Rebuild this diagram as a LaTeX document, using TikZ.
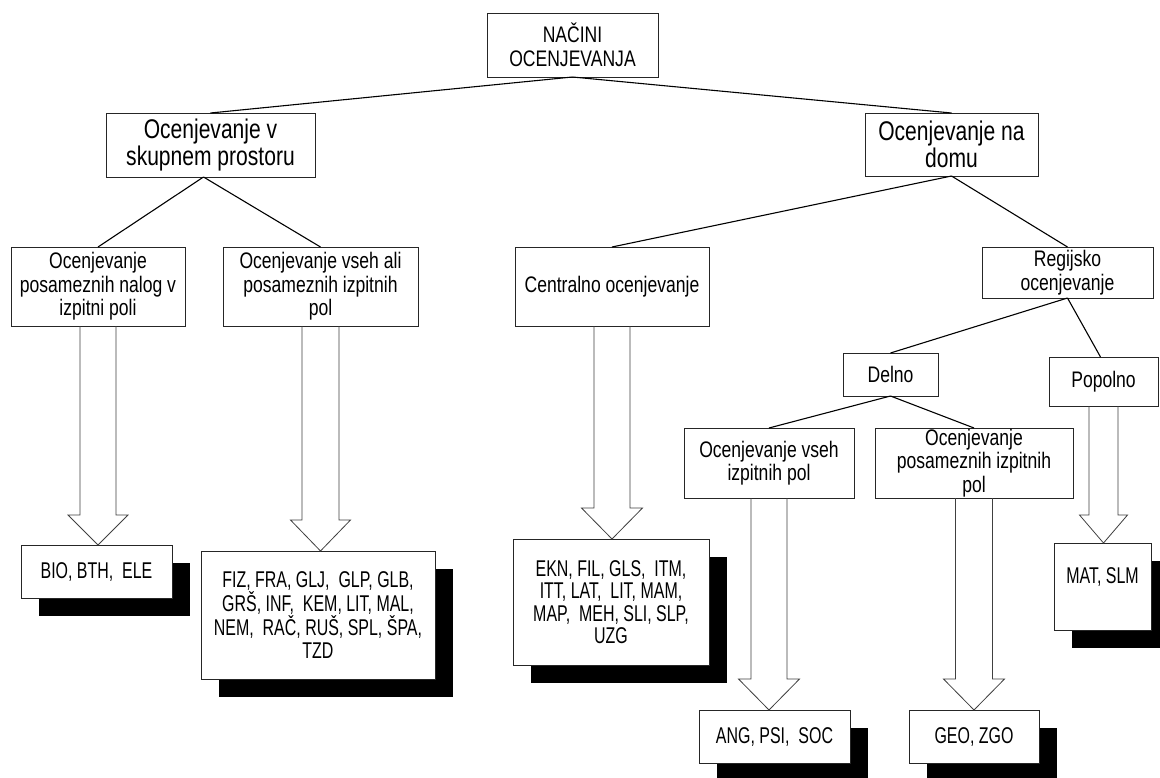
\documentclass[tikz,border=0pt]{standalone}
\usepackage{fontspec}
\newfontfamily\nf[FakeStretch=0.78]{Liberation Sans}
\newfontfamily\lf[FakeStretch=0.70]{Liberation Sans}
\usetikzlibrary{calc,shadows}
\tikzset{
 box/.style={draw=black!85, line width=0.8pt, fill=white, inner sep=0pt, outer sep=0pt, align=center, font=\nf\fontsize{22.5}{23.5}\selectfont},
 bigbox/.style={box, font=\nf\fontsize{27}{27.3}\selectfont},
 listbox/.style={box, font=\lf\fontsize{22.8}{22.5}\selectfont, drop shadow={shadow xshift=18pt, shadow yshift=-18pt, fill=black, opacity=1}},
 conn/.style={line width=1.1pt, draw=black},
 barr/.style={draw=black!75, line width=0.8pt},
}
\newcommand\blockarrow[5]{%
 \draw[barr] ($(#1.south)+(-#3,0)$) -- ($(#1.south |- #2.north)+(-#3,-#5)$) -- ($(#1.south |- #2.north)+(-#4,-#5)$) -- (#1.south |- #2.north) -- ($(#1.south |- #2.north)+(#4,-#5)$) -- ($(#1.south |- #2.north)+(#3,-#5)$) -- ($(#1.south)+(#3,0)$);
}
\begin{document}
\begin{tikzpicture}[x=1pt,y=-1pt]
\useasboundingbox[fill=white] (0,0) rectangle (1160,778);
% level 1-2
\node[box, minimum width=171pt, minimum height=64pt] (root) at (572.5,45) {NAČINI\\OCENJEVANJA};
\node[bigbox, minimum width=209pt, minimum height=64pt] (skup) at (210.5,145) {Ocenjevanje v\\skupnem prostoru};
\node[bigbox, minimum width=173pt, minimum height=63pt] (domu) at (951.5,144.5) {Ocenjevanje na\\domu};
% level 3
\node[box, minimum width=174pt, minimum height=79pt] (nalog) at (98,286.5) {Ocenjevanje\\posameznih nalog v\\izpitni poli};
\node[box, minimum width=195pt, minimum height=79pt] (vsehali) at (320.5,286.5) {Ocenjevanje vseh ali\\posameznih izpitnih\\pol};
\node[box, minimum width=194pt, minimum height=79pt] (central) at (612,286.5) {Centralno ocenjevanje};
\node[box, minimum width=171pt, minimum height=51pt] (regij) at (1067.5,272.5) {Regijsko\\ocenjevanje};
\node[box, minimum width=95pt, minimum height=43pt] (delno) at (890.5,374.5) {Delno};
\node[box, minimum width=109pt, minimum height=49pt] (popol) at (1103.5,381.5) {Popolno};
\node[box, minimum width=170pt, minimum height=70pt] (vsehiz) at (769,463) {Ocenjevanje vseh\\izpitnih pol};
\node[box, minimum width=198pt, minimum height=70pt] (posiz) at (974,463) {Ocenjevanje\\posameznih izpitnih\\pol};
% lists
\node[listbox, minimum width=151pt, minimum height=53pt] (bio) at (96.5,571.5) {BIO, BTH,\ \ ELE};
\node[listbox, minimum width=234pt, minimum height=128pt] (fiz) at (318,615) {FIZ, FRA, GLJ,\ \ GLP, GLB,\\GRŠ, INF,\ \ KEM, LIT, MAL,\\NEM,\ \ RAČ, RUŠ, SPL, ŠPA,\\TZD};
\node[listbox, minimum width=196pt, minimum height=126pt] (ekn) at (611,602) {EKN, FIL, GLS,\ \ ITM,\\ITT, LAT,\ \ LIT, MAM,\\MAP,\ \ MEH, SLI, SLP,\\UZG};
\node[listbox, minimum width=151pt, minimum height=53pt] (ang) at (774.5,736.5) {ANG, PSI,\ \ SOC};
\node[listbox, minimum width=130pt, minimum height=53pt] (geo) at (974,736.5) {GEO, ZGO};
\node[listbox, minimum width=97pt, minimum height=87pt] (mat) at (1102.5,586.5) {MAT, SLM\\\mbox{}};
% connectors
\draw[conn] (root.south) -- (skup.north);
\draw[conn] (root.south) -- (domu.north);
\draw[conn] ([xshift=-7pt]skup.south) -- (nalog.north);
\draw[conn] ([xshift=-7pt]skup.south) -- (vsehali.north);
\draw[conn] (domu.south) -- (central.north);
\draw[conn] (domu.south) -- (regij.north);
\draw[conn] (regij.south) -- (delno.north);
\draw[conn] (regij.south) -- ([xshift=-3pt]popol.north);
\draw[conn] (delno.south) -- (vsehiz.north);
\draw[conn] (delno.south) -- (posiz.north);
% block arrows
\blockarrow{nalog}{bio}{18}{30}{30}
\blockarrow{vsehali}{fiz}{18.5}{30}{31}
\blockarrow{central}{ekn}{18}{30.5}{31}
\blockarrow{vsehiz}{ang}{18}{30.5}{31}
\blockarrow{posiz}{geo}{18.5}{30.5}{31}
\blockarrow{popol}{mat}{14.5}{24}{28}
\end{tikzpicture}
\end{document}
